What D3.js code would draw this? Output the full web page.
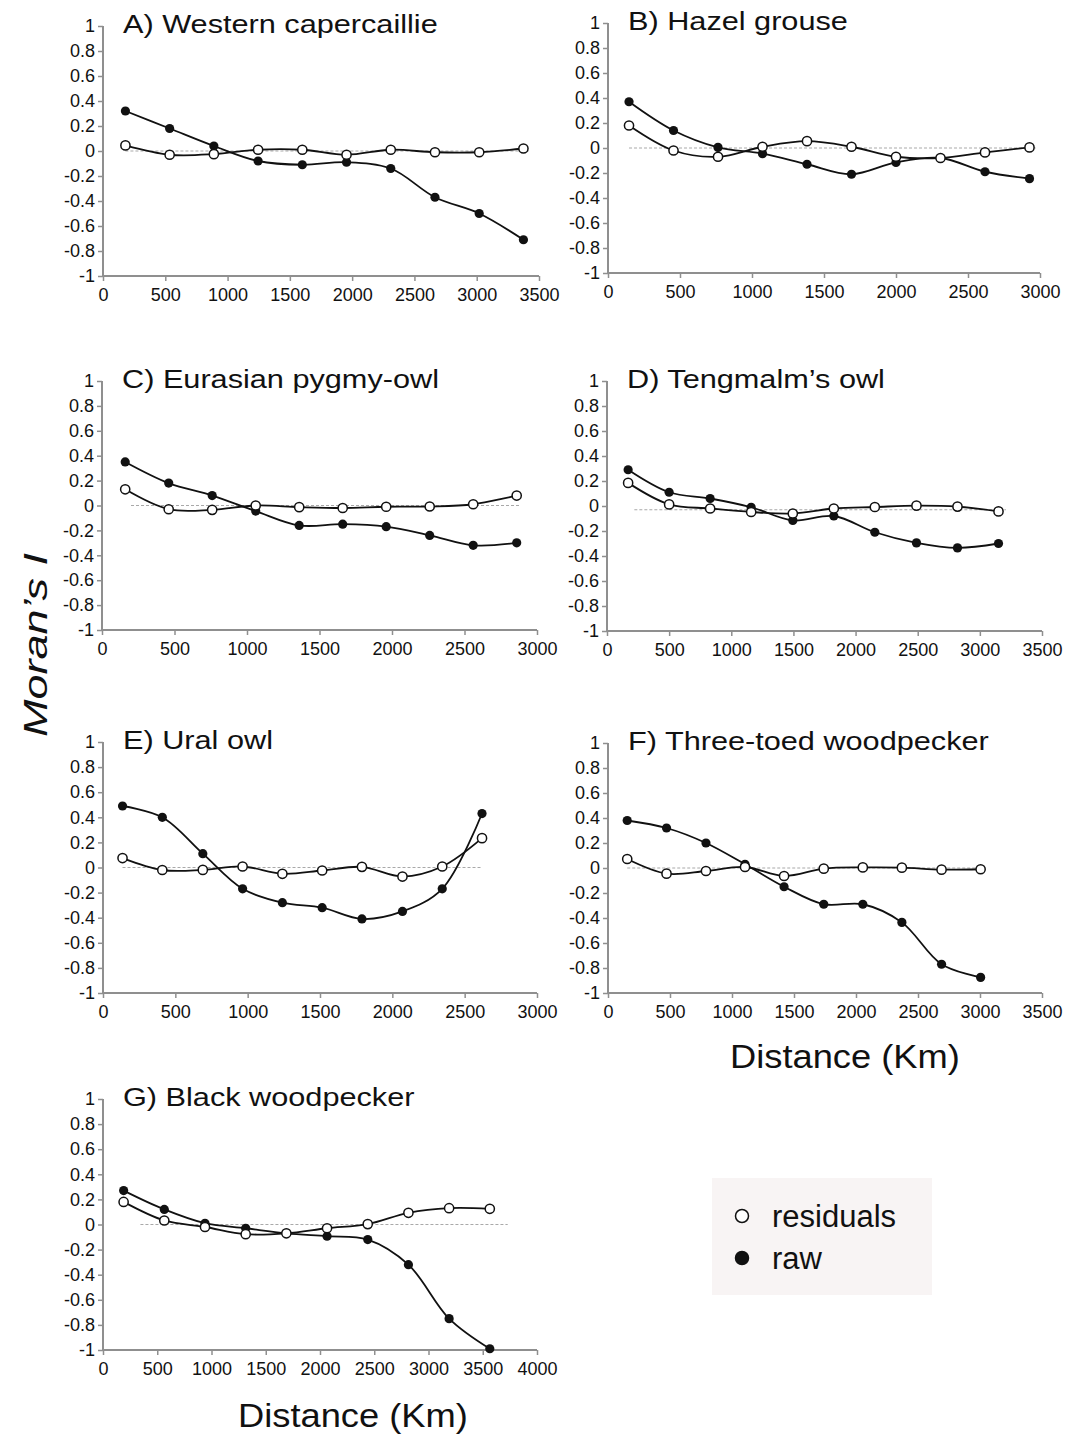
<!DOCTYPE html>
<html>
<head>
<meta charset="utf-8">
<script src="https://cdn.jsdelivr.net/npm/d3@7"></script>
<style>
  body { margin: 0; background: #fff; }
  text { font-family: "Liberation Sans", Arial, sans-serif; fill: #111; }
</style>
</head>
<body>
<svg id="moran" width="1068" height="1443"></svg>
<script>
// panel titles
var titles = ["A) Western capercaillie", "B) Hazel grouse", "C) Eurasian pygmy-owl",
  "D) Tengmalm\u2019s owl", "E) Ural owl", "F) Three-toed woodpecker", "G) Black woodpecker"];

// distance classes (km) per species
var distA = [180, 535, 890, 1245, 1600, 1955, 2310, 2665, 3020, 3375];
var distB = [146, 455, 764, 1073, 1382, 1691, 2000, 2309, 2618, 2927];
var distC = [160, 460, 760, 1060, 1360, 1660, 1960, 2260, 2560, 2860];
var distD = [170, 500, 830, 1160, 1495, 1825, 2155, 2490, 2820, 3150];
var distE = [135, 410, 690, 965, 1240, 1515, 1790, 2070, 2345, 2620];
var distF = [155, 472, 790, 1105, 1420, 1740, 2055, 2370, 2690, 3005];
var distG = [190, 565, 940, 1315, 1690, 2065, 2440, 2815, 3190, 3565];

// Moran's I, raw data
var rawA = [0.32, 0.18, 0.04, -0.08, -0.11, -0.09, -0.14, -0.37, -0.50, -0.71];
var rawB = [0.37, 0.14, 0.005, -0.045, -0.13, -0.21, -0.115, -0.08, -0.19, -0.245];
var rawC = [0.35, 0.18, 0.08, -0.045, -0.16, -0.15, -0.17, -0.24, -0.32, -0.30];
var rawD = [0.29, 0.11, 0.06, -0.01, -0.115, -0.08, -0.21, -0.295, -0.335, -0.30];
var rawE = [0.49, 0.40, 0.11, -0.17, -0.28, -0.32, -0.41, -0.35, -0.17, 0.43];
var rawF = [0.38, 0.32, 0.20, 0.03, -0.15, -0.29, -0.29, -0.435, -0.77, -0.875];
var rawG = [0.27, 0.12, 0.01, -0.03, -0.07, -0.093, -0.12, -0.32, -0.75, -0.99];

// Moran's I, model residuals
var resA = [0.045, -0.03, -0.025, 0.01, 0.01, -0.03, 0.01, -0.01, -0.01, 0.02];
var resB = [0.18, -0.02, -0.07, 0.01, 0.055, 0.01, -0.07, -0.08, -0.035, 0.005];
var resC = [0.13, -0.03, -0.035, 0, -0.013, -0.02, -0.01, -0.008, 0.01, 0.08];
var resD = [0.185, 0.013, -0.02, -0.048, -0.06, -0.02, -0.008, 0.003, -0.005, -0.043];
var resE = [0.075, -0.02, -0.019, 0.008, -0.05, -0.024, 0.005, -0.072, 0.008, 0.234];
var resF = [0.072, -0.045, -0.024, 0.008, -0.064, -0.005, 0.005, 0.003, -0.013, -0.01];
var resG = [0.18, 0.032, -0.02, -0.077, -0.07, -0.03, 0.003, 0.093, 0.13, 0.125];

// x axis maximum per panel and the dashed reference line [from, to, value]
var xMaxes = [3500, 3000, 3000, 3500, 3000, 3500, 4000];
var refLines = [[180, 3420, 0], [146, 2970, 0], [200, 2880, 0], [220, 3210, -0.03],
  [135, 2610, 0], [155, 3035, 0], [345, 3730, 0]];

var yTicks = [1, 0.8, 0.6, 0.4, 0.2, 0, -0.2, -0.4, -0.6, -0.8, -1];
var yTickLabels = ["1", "0.8", "0.6", "0.4", "0.2", "0", "-0.2", "-0.4", "-0.6", "-0.8", "-1"];

var dists = [distA, distB, distC, distD, distE, distF, distG];
var raws = [rawA, rawB, rawC, rawD, rawE, rawF, rawG];
var ress = [resA, resB, resC, resD, resE, resF, resG];

// plot boxes [left, right, top, bottom]
var boxes = [[103, 539, 26, 276], [608, 1040, 23, 273],
  [102, 537, 381, 630], [607, 1042, 381, 631],
  [103, 537, 742, 993], [608, 1042, 743, 993],
  [103, 537, 1099, 1350]];

var svg = d3.select("#moran");
svg.append("rect").attr("width", 1068).attr("height", 1443).attr("fill", "#fff");

var axisGrey = "#8f8f8f";

boxes.forEach(function(b, i) {
  var x = d3.scaleLinear().domain([0, xMaxes[i]]).range([b[0], b[1]]),
      y = d3.scaleLinear().domain([-1, 1]).range([b[3], b[2]]);
  var g = svg.append("g");

  var xAxis = g.append("g")
      .attr("transform", "translate(0," + b[3] + ")")
      .call(d3.axisBottom(x).tickValues(d3.range(0, xMaxes[i] + 1, 500))
        .tickFormat(d3.format("d")).tickSize(5).tickPadding(7));
  var yAxis = g.append("g")
      .attr("transform", "translate(" + b[0] + ",0)")
      .call(d3.axisLeft(y).tickValues(yTicks)
        .tickFormat(function(d, k) { return yTickLabels[k]; }).tickSize(5).tickPadding(3));

  [xAxis, yAxis].forEach(function(a) {
    a.select(".domain").attr("stroke", axisGrey).attr("stroke-width", 2)
      .attr("d", a === xAxis ? "M" + b[0] + ",0H" + b[1] : "M0," + b[3] + "V" + b[2]);
    a.selectAll(".tick line").attr("stroke", axisGrey).attr("stroke-width", 1.5);
    a.selectAll(".tick text").style("font-size", "18px")
      .style("font-family", "Liberation Sans, Arial, sans-serif").attr("fill", "#111");
  });

  // dashed reference line
  var r = refLines[i];
  g.append("line")
      .attr("x1", x(r[0])).attr("x2", x(r[1]))
      .attr("y1", y(r[2])).attr("y2", y(r[2]))
      .attr("stroke", "#a9a9a9").attr("stroke-width", 1)
      .attr("stroke-dasharray", "3,2");

  var line = d3.line()
      .curve(d3.curveCatmullRom.alpha(0.5))
      .x(function(d) { return x(d[0]); })
      .y(function(d) { return y(d[1]); });

  var rawPts = dists[i].map(function(d, k) { return [d, raws[i][k]]; }),
      resPts = dists[i].map(function(d, k) { return [d, ress[i][k]]; });

  [rawPts, resPts].forEach(function(pts) {
    g.append("path").attr("d", line(pts))
      .attr("fill", "none").attr("stroke", "#111").attr("stroke-width", 1.8);
  });

  g.selectAll(".raw").data(rawPts).enter().append("circle")
      .attr("cx", function(d) { return x(d[0]); })
      .attr("cy", function(d) { return y(d[1]); })
      .attr("r", 4.6).attr("fill", "#111");
  g.selectAll(".res").data(resPts).enter().append("circle")
      .attr("cx", function(d) { return x(d[0]); })
      .attr("cy", function(d) { return y(d[1]); })
      .attr("r", 4.6).attr("fill", "#fff").attr("stroke", "#111").attr("stroke-width", 1.5);

  g.append("text")
      .attr("transform", "translate(" + (b[0] + 20) + "," + (b[2] + 7) + ") scale(1.18,1)")
      .style("font-size", "26px")
      .text(titles[i]);
});

// axis titles
svg.append("text")
    .attr("transform", "translate(47,645) rotate(-90)")
    .attr("text-anchor", "middle")
    .attr("textLength", 184).attr("lengthAdjust", "spacingAndGlyphs")
    .style("font-size", "34px").style("font-style", "italic")
    .text("Moran\u2019s I");

svg.append("text")
    .attr("transform", "translate(730,1068) scale(1.1,1)")
    .style("font-size", "33px")
    .text("Distance (Km)");
svg.append("text")
    .attr("transform", "translate(238,1427) scale(1.1,1)")
    .style("font-size", "33px")
    .text("Distance (Km)");

// legend
var legend = svg.append("g");
legend.append("rect")
    .attr("x", 712).attr("y", 1178).attr("width", 220).attr("height", 117)
    .attr("fill", "#f8f4f4");
var legendItems = [["residuals", "#fff"], ["raw", "#111"]];
legend.selectAll(".item").data(legendItems).enter().append("g")
    .attr("transform", function(d, k) { return "translate(742," + (1216 + k * 42) + ")"; })
    .each(function(d) {
      var it = d3.select(this);
      it.append("circle").attr("r", 6.5).attr("fill", d[1])
        .attr("stroke", "#111").attr("stroke-width", 1.5);
      it.append("text").attr("x", 30).attr("y", 11)
        .style("font-size", "31px").text(d[0]);
    });
</script>
</body>
</html>
